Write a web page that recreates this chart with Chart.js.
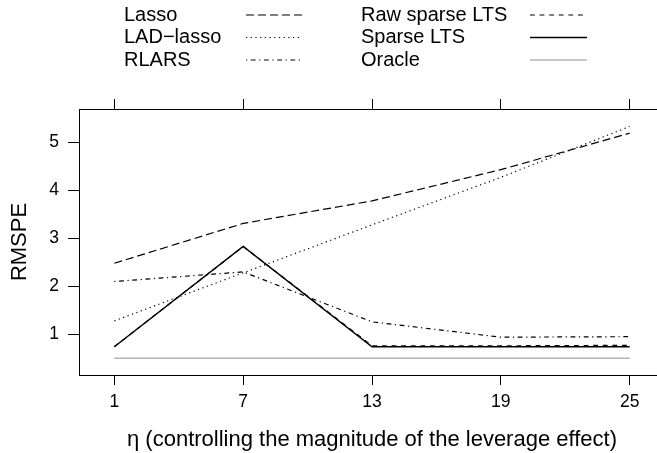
<!DOCTYPE html>
<html>
<head>
<meta charset="utf-8">
<script src="https://cdn.jsdelivr.net/npm/chart.js@4.4.1/dist/chart.umd.min.js"></script>
<style>
  html, body { margin: 0; padding: 0; background: #fff; overflow: hidden; }
  canvas { display: block; }
</style>
</head>
<body>
<canvas id="chart" width="680" height="453" style="width:680px;height:453px"></canvas>
<script>
// eta values on the x axis and RMSPE for each method
const etaValues = [1, 7, 13, 19, 25];
const lasso = [2.48, 3.31, 3.78, 4.43, 5.19];
const ladLasso = [1.28, 2.28, 3.28, 4.27, 5.33];
const rlars = [2.10, 2.30, 1.26, 0.94, 0.95];
const rawSparseLts = [0.74, 2.83, 0.76, 0.76, 0.77];
const sparseLts = [0.74, 2.83, 0.74, 0.74, 0.74];
const oracle = [0.5, 0.5, 0.5, 0.5, 0.5];
const yTicks = [1, 2, 3, 4, 5];

const FONT = "'Liberation Sans', Arial, Helvetica, sans-serif";

function points(values) {
  return etaValues.map((x, i) => ({ x: x, y: values[i] }));
}

function series(label, values, dash, color, width) {
  return {
    label: label,
    data: points(values),
    borderColor: color,
    borderWidth: width,
    borderDash: dash,
    pointRadius: 0,
    tension: 0,
    fill: false,
  };
}

// two-column legend: text, then a line sample
const legendPlugin = {
  id: "sideLegend",
  afterDraw(chart) {
    const ctx = chart.ctx;
    const cols = [
      { text: 124, x0: 246, x1: 302 },
      { text: 361, x0: 530, x1: 587 },
    ];
    const rows = [15, 37.5, 60];
    ctx.save();
    ctx.font = "20px " + FONT;
    ctx.textBaseline = "middle";
    ctx.fillStyle = "#000";
    chart.data.datasets.forEach((ds, i) => {
      const c = cols[Math.floor(i / 3)];
      const y = rows[i % 3];
      ctx.fillText(ds.label, c.text, y);
      ctx.beginPath();
      ctx.setLineDash(ds.borderDash || []);
      ctx.strokeStyle = ds.borderColor;
      ctx.lineWidth = ds.borderWidth;
      ctx.moveTo(c.x0, y);
      ctx.lineTo(c.x1, y);
      ctx.stroke();
    });
    ctx.restore();
  },
};

const tickGrid = (len) => ({
  drawOnChartArea: false,
  drawTicks: true,
  tickLength: len,
  color: "#000",
  lineWidth: 1,
});

new Chart(document.getElementById("chart").getContext("2d"), {
  type: "line",
  data: {
    datasets: [
      series("Lasso", lasso, [8, 4], "#000", 1.2),
      series("LAD\u2212lasso", ladLasso, [1.2, 3.5], "#000", 1.2),
      series("RLARS", rlars, [1.2, 3.6, 4.8, 3.6], "#000", 1.2),
      series("Raw sparse LTS", rawSparseLts, [4.8, 4.8], "#000", 1.2),
      series("Sparse LTS", sparseLts, [], "#000", 1.5),
      series("Oracle", oracle, [], "#b3b3b3", 1.5),
    ],
  },
  options: {
    responsive: false,
    animation: false,
    layout: { padding: { left: 0, right: 15, top: 0, bottom: 0 } },
    plugins: {
      legend: { display: false },
      tooltip: { enabled: false },
    },
    scales: {
      x: {
        type: "linear",
        position: "bottom",
        min: -0.645,
        max: 26.645,
        afterBuildTicks: (s) => { s.ticks = etaValues.map((v) => ({ value: v })); },
        afterFit: (s) => { s.height = 78; },
        grid: tickGrid(10),
        border: { display: true, color: "#000", width: 1 },
        ticks: {
          color: "#000",
          font: { family: FONT, size: 17.5 },
          padding: 7,
          maxRotation: 0,
          autoSkip: false,
        },
        title: {
          display: true,
          text: "\u03b7 (controlling the magnitude of the leverage effect)",
          color: "#000",
          font: { family: FONT, size: 22 },
          padding: { top: 0, bottom: 0 },
        },
      },
      xTop: {
        type: "linear",
        position: "top",
        min: -0.645,
        max: 26.645,
        afterBuildTicks: (s) => { s.ticks = etaValues.map((v) => ({ value: v })); },
        afterFit: (s) => { s.height = 109; },
        grid: tickGrid(10),
        border: { display: true, color: "#000", width: 1 },
        ticks: { display: false },
      },
      y: {
        type: "linear",
        position: "left",
        min: 0.152,
        max: 5.694,
        afterBuildTicks: (s) => { s.ticks = yTicks.map((v) => ({ value: v })); },
        afterFit: (s) => { s.width = 79; },
        grid: tickGrid(11),
        border: { display: true, color: "#000", width: 1 },
        ticks: {
          color: "#000",
          font: { family: FONT, size: 17.5 },
          padding: 9,
        },
        title: {
          display: true,
          text: "RMSPE",
          color: "#000",
          font: { family: FONT, size: 22 },
          padding: { top: 7, bottom: 0 },
        },
      },
    },
  },
  plugins: [legendPlugin],
});
</script>
</body>
</html>
